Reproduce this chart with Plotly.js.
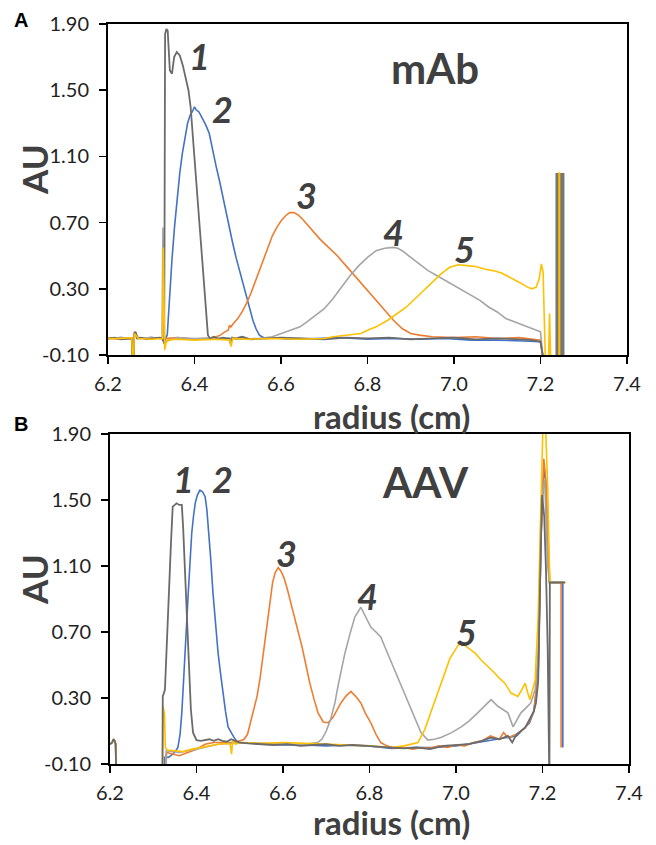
<!DOCTYPE html>
<html>
<head>
<meta charset="utf-8">
<script src="https://cdn.plot.ly/plotly-3.0.1.min.js"></script>
<style>html,body{margin:0;padding:0;background:#fff;}#chart{width:656px;height:845px;}</style>
</head>
<body>
<div id="chart"></div>
<script>
// ---------- Panel A (mAb) ----------
const A1x = [6.200,6.215,6.230,6.245,6.255,6.258,6.261,6.264,6.267,6.275,6.290,6.305,6.318,6.326,6.330,6.332,6.335,6.338,6.343,6.348,6.353,6.359,6.366,6.373,6.380,6.386,6.391,6.396,6.401,6.407,6.413,6.418,6.422,6.427,6.431,6.436,6.445,6.455,6.465,6.475,6.481,6.484,6.487,6.495,6.51,6.53,6.56,6.60,6.65,6.70,6.75,6.80,6.85,6.90,6.95,7.00,7.05,7.10,7.15,7.18,7.20,7.205,7.208];
const A1y = [0.000,0.005,-0.005,0.000,0.000,-0.25,0.03,0.04,0.000,0.005,-0.005,0.000,0.005,0.000,-0.03,1.84,1.87,1.86,1.62,1.60,1.70,1.73,1.71,1.65,1.57,1.50,1.40,1.24,1.04,0.84,0.64,0.47,0.33,0.17,0.02,0.000,0.010,-0.005,0.005,0.000,0.000,-0.04,0.005,0.000,0.010,-0.005,0.000,0.005,0.000,-0.005,0.005,0.000,0.005,-0.005,0.000,0.005,-0.005,0.000,-0.005,-0.010,-0.020,-0.10,-0.25];

const A2x = [6.200,6.230,6.255,6.258,6.261,6.264,6.270,6.300,6.326,6.330,6.337,6.342,6.348,6.354,6.360,6.366,6.372,6.378,6.384,6.390,6.395,6.400,6.404,6.410,6.418,6.426,6.434,6.442,6.450,6.458,6.466,6.474,6.482,6.488,6.496,6.504,6.512,6.520,6.528,6.535,6.542,6.550,6.556,6.565,6.58,6.62,6.68,6.74,6.80,6.86,6.92,6.98,7.04,7.10,7.16,7.20,7.205,7.208];
const A2y = [0.000,0.005,0.000,-0.20,0.03,0.03,0.000,0.005,0.000,-0.02,0.02,0.25,0.48,0.68,0.86,1.00,1.12,1.22,1.30,1.35,1.37,1.40,1.38,1.37,1.33,1.29,1.24,1.13,1.04,0.95,0.85,0.74,0.64,0.58,0.49,0.41,0.33,0.25,0.17,0.11,0.06,0.02,0.01,0.000,0.005,-0.005,0.000,0.005,-0.005,0.000,-0.005,0.000,-0.010,-0.010,-0.015,-0.020,-0.10,-0.25];

const A3x = [6.200,6.230,6.255,6.258,6.261,6.264,6.270,6.300,6.326,6.330,6.334,6.36,6.40,6.43,6.44,6.45,6.46,6.47,6.478,6.481,6.484,6.49,6.50,6.51,6.52,6.53,6.54,6.55,6.56,6.57,6.58,6.59,6.60,6.61,6.62,6.63,6.64,6.65,6.66,6.67,6.68,6.69,6.71,6.73,6.75,6.77,6.79,6.81,6.83,6.85,6.86,6.88,6.90,6.92,6.95,7.00,7.05,7.10,7.15,7.20,7.205,7.208];
const A3y = [0.000,-0.005,0.000,-0.20,0.03,0.03,0.000,0.005,0.000,-0.03,0.000,0.005,-0.005,0.000,0.000,0.010,0.020,0.040,0.050,0.080,0.070,0.090,0.120,0.160,0.210,0.270,0.340,0.410,0.480,0.560,0.620,0.670,0.710,0.740,0.760,0.760,0.745,0.720,0.690,0.660,0.630,0.600,0.550,0.500,0.440,0.380,0.320,0.260,0.200,0.140,0.110,0.060,0.030,0.020,0.010,0.005,0.010,0.000,0.005,-0.010,-0.10,-0.25];

const A4x = [6.200,6.230,6.255,6.258,6.261,6.264,6.270,6.300,6.320,6.325,6.327,6.329,6.333,6.36,6.40,6.45,6.50,6.55,6.58,6.60,6.62,6.644,6.66,6.68,6.70,6.72,6.74,6.76,6.78,6.80,6.82,6.84,6.86,6.87,6.88,6.90,6.92,6.94,6.96,6.98,7.00,7.02,7.04,7.06,7.08,7.10,7.12,7.14,7.16,7.18,7.20,7.205,7.208];
const A4y = [0.000,0.005,0.000,-0.20,0.04,0.03,0.000,0.005,0.000,0.000,0.67,0.05,-0.02,0.005,0.000,0.005,-0.005,0.000,0.010,0.030,0.050,0.070,0.100,0.140,0.180,0.240,0.310,0.380,0.440,0.490,0.530,0.545,0.550,0.545,0.530,0.490,0.450,0.410,0.380,0.350,0.320,0.290,0.260,0.230,0.190,0.160,0.120,0.100,0.080,0.060,0.040,-0.10,-0.25];

const A5x = [6.200,6.230,6.255,6.258,6.261,6.264,6.270,6.300,6.320,6.326,6.328,6.331,6.334,6.337,6.36,6.40,6.45,6.482,6.485,6.488,6.52,6.58,6.64,6.70,6.72,6.76,6.785,6.80,6.82,6.847,6.87,6.89,6.91,6.93,6.95,6.97,6.99,7.01,7.03,7.05,7.07,7.09,7.11,7.13,7.15,7.17,7.18,7.19,7.197,7.202,7.206,7.209,7.212,7.218,7.221,7.224,7.243,7.243,7.244,7.244];
const A5y = [0.000,0.000,0.005,-0.20,0.03,0.02,0.000,-0.005,0.000,0.000,0.55,-0.07,-0.03,-0.01,-0.005,-0.010,-0.005,-0.01,-0.05,0.000,-0.005,0.000,-0.005,0.000,0.010,0.020,0.030,0.050,0.070,0.110,0.150,0.190,0.240,0.290,0.340,0.390,0.430,0.445,0.440,0.435,0.420,0.410,0.395,0.370,0.340,0.310,0.300,0.310,0.360,0.450,0.400,0.10,-0.20,-0.20,0.15,-0.20,-0.20,1.00,1.00,-0.20];

// meniscus / reference block at the cell bottom (panel A)
const A_blockX = [7.245,7.245];
const A_blockY = [-0.20,1.00];

// ---------- Panel B (AAV) ----------
const B1x = [6.200,6.205,6.208,6.211,6.213,6.215,null,6.321,6.322,6.327,6.334,6.341,6.345,6.350,6.354,6.360,6.366,6.369,6.375,6.381,6.387,6.392,6.400,6.41,6.42,6.43,6.44,6.45,6.46,6.47,6.48,6.49,6.50,6.52,6.55,6.58,6.61,6.64,6.67,6.70,6.73,6.76,6.79,6.82,6.85,6.88,6.91,6.94,6.97,7.00,7.03,7.06,7.08,7.10,7.12,7.13,7.14,7.16,7.17,7.18,7.185,7.19,7.196,7.199,7.204,7.208,7.212,7.216,7.217,7.252];
const B1y = [0.02,0.03,0.05,0.04,0.02,-0.25,null,-0.25,0.31,0.35,0.83,1.24,1.46,1.47,1.48,1.47,1.47,1.34,0.94,0.53,0.23,0.09,0.045,0.04,0.045,0.05,0.04,0.05,0.04,0.035,0.05,0.04,0.03,0.025,0.02,0.015,0.02,0.01,0.015,0.02,0.01,0.015,0.01,0.005,0.000,-0.005,0.000,-0.01,0.01,0.015,0.02,0.04,0.06,0.05,0.07,0.03,0.08,0.12,0.17,0.22,0.27,0.40,1.20,1.53,1.40,1.08,0.60,-0.25,1.00,1.00];

const B2x = [6.200,6.205,6.208,6.211,6.213,6.215,null,6.325,6.326,6.335,6.345,6.352,6.357,6.362,6.366,6.370,6.373,6.377,6.381,6.385,6.389,6.393,6.397,6.402,6.408,6.414,6.420,6.424,6.428,6.433,6.438,6.444,6.450,6.456,6.461,6.467,6.473,6.480,6.487,6.494,6.50,6.55,6.60,6.65,6.70,6.75,6.80,6.85,6.90,6.95,7.00,7.05,7.10,7.14,7.17,7.18,7.19,7.197,7.203,7.208,7.212,7.216,7.247,7.247];
const B2y = [0.02,0.03,0.05,0.04,0.02,-0.25,null,-0.25,-0.06,-0.06,-0.04,-0.02,0.00,0.08,0.21,0.40,0.57,0.76,0.94,1.12,1.30,1.40,1.48,1.53,1.56,1.55,1.52,1.44,1.32,1.14,0.94,0.75,0.57,0.44,0.33,0.22,0.125,0.09,0.06,0.035,0.03,0.02,0.015,0.015,0.01,0.015,0.01,-0.005,0.00,0.00,0.01,0.03,0.05,0.07,0.15,0.22,0.45,1.30,1.70,1.60,1.30,1.00,1.00,0.00];

const B3x = [6.200,6.205,6.208,6.211,6.213,6.215,null,6.325,6.331,6.36,6.38,6.40,6.42,6.44,6.46,6.48,6.50,6.51,6.518,6.525,6.532,6.54,6.547,6.555,6.563,6.570,6.576,6.582,6.589,6.595,6.602,6.609,6.616,6.624,6.634,6.644,6.653,6.662,6.672,6.681,6.693,6.704,6.715,6.725,6.734,6.745,6.757,6.768,6.78,6.79,6.803,6.815,6.826,6.84,6.86,6.88,6.90,6.92,6.94,6.96,6.98,7.00,7.02,7.04,7.06,7.08,7.10,7.11,7.12,7.14,7.15,7.16,7.17,7.18,7.19,7.197,7.203,7.208,7.212,7.216,7.243,7.243];
const B3y = [0.02,0.03,0.05,0.04,0.02,-0.25,null,-0.25,-0.03,-0.05,-0.03,-0.01,0.02,0.03,0.03,0.03,0.04,0.05,0.08,0.15,0.22,0.31,0.42,0.58,0.76,0.90,1.00,1.06,1.09,1.07,1.03,0.97,0.90,0.82,0.72,0.61,0.50,0.39,0.29,0.21,0.155,0.15,0.18,0.23,0.27,0.31,0.34,0.31,0.27,0.21,0.15,0.08,0.03,0.01,-0.005,0.00,-0.01,0.00,-0.005,0.01,0.00,0.015,0.01,0.03,0.04,0.07,0.05,0.09,0.06,0.08,0.10,0.12,0.16,0.22,0.45,1.30,1.75,1.62,1.30,1.00,1.00,0.00];

const B4x = [6.200,6.205,6.208,6.211,6.213,6.215,null,6.325,6.33,6.36,6.40,6.45,6.50,6.55,6.60,6.65,6.68,6.69,6.70,6.71,6.72,6.727,6.735,6.743,6.755,6.766,6.78,6.79,6.803,6.815,6.826,6.842,6.858,6.874,6.889,6.904,6.919,6.935,6.95,6.965,6.99,7.012,7.03,7.05,7.065,7.081,7.097,7.11,7.12,7.132,7.15,7.162,7.173,7.183,7.19,7.197,7.205,7.212,7.216,7.25];
const B4y = [0.02,0.03,0.05,0.04,0.02,-0.25,null,-0.25,-0.02,-0.03,-0.01,0.02,0.03,0.025,0.02,0.02,0.03,0.05,0.10,0.17,0.27,0.37,0.47,0.57,0.69,0.79,0.85,0.80,0.73,0.70,0.67,0.57,0.47,0.37,0.27,0.18,0.09,0.045,0.05,0.06,0.09,0.125,0.16,0.21,0.25,0.29,0.25,0.23,0.21,0.125,0.21,0.24,0.27,0.35,0.57,1.50,1.62,1.10,1.00,1.00];

const B5x = [6.200,6.205,6.208,6.211,6.213,6.215,null,6.321,6.323,6.326,6.328,6.332,6.35,6.37,6.39,6.41,6.43,6.45,6.47,6.478,6.481,6.484,6.49,6.50,6.55,6.60,6.65,6.70,6.75,6.80,6.85,6.88,6.912,6.928,6.94,6.952,6.963,6.975,6.986,6.998,7.005,7.012,7.02,7.035,7.045,7.058,7.07,7.08,7.09,7.10,7.113,7.12,7.127,7.135,7.143,7.152,7.16,7.166,7.171,7.178,7.183,7.19,7.197,7.201,7.207,7.212,7.216,7.218,7.254];
const B5y = [0.02,0.03,0.05,0.04,0.02,-0.25,null,-0.25,0.25,0.20,0.00,-0.015,-0.02,-0.025,-0.01,0.00,0.01,0.02,0.025,0.02,-0.04,0.05,0.02,0.03,0.025,0.03,0.025,0.02,0.015,0.01,0.00,0.01,0.03,0.11,0.20,0.29,0.38,0.47,0.54,0.59,0.62,0.63,0.62,0.59,0.57,0.53,0.50,0.48,0.45,0.42,0.39,0.36,0.33,0.32,0.31,0.35,0.39,0.33,0.29,0.36,0.41,0.80,1.58,1.95,1.95,1.58,1.10,1.00,1.00];

// axis ticks
const xTicks = [6.2,6.4,6.6,6.8,7.0,7.2,7.4];
const xTickLabels = ['6.2','6.4','6.6','6.8','7.0','7.2','7.4'];
const yTicks = [-0.1,0.3,0.7,1.1,1.5,1.9];
const yTickLabels = ['-0.10','0.30','0.70','1.10','1.50','1.90'];

// peak labels
const peakNames = ['1','2','3','4','5'];

const C = {dark:'#6b6b6b', blue:'#4472c4', orange:'#ed7d31', gray:'#a5a5a5', gold:'#ffc000'};
const W = 1.6;
function tr(x,y,color,xa,ya,w){return {x:x,y:y,type:'scatter',mode:'lines',line:{color:color,width:w||W},xaxis:xa,yaxis:ya,hoverinfo:'skip',showlegend:false,connectgaps:false};}

const data = [
  tr(A_blockX,A_blockY,'#767676','x','y',9),
  tr(A2x,A2y,C.blue,'x','y'),
  tr(A3x,A3y,C.orange,'x','y'),
  tr(A4x,A4y,C.gray,'x','y'),
  tr(A1x,A1y,C.dark,'x','y',1.8),
  tr(A5x,A5y,C.gold,'x','y'),
  tr(B2x,B2y,C.blue,'x2','y2'),
  tr(B3x,B3y,C.orange,'x2','y2'),
  tr(B4x,B4y,C.gray,'x2','y2'),
  tr(B5x,B5y,C.gold,'x2','y2'),
  tr(B1x,B1y,C.dark,'x2','y2',1.8)
];

const tickFont = {family:'Lato, "Open Sans", sans-serif', size:20, color:'#1f1f1f'};
function xax(dom,anchor){return {domain:dom,anchor:anchor,range:[6.2,7.4],tickvals:xTicks,ticktext:xTickLabels,ticks:'outside',ticklen:7,tickwidth:1.5,tickcolor:'#000',showline:true,mirror:true,linecolor:'#000',linewidth:2,showgrid:false,zeroline:false,tickfont:tickFont,ticklabelstandoff:3,fixedrange:true};}
function yax(dom,anchor){return {domain:dom,anchor:anchor,range:[-0.1,1.9],tickvals:yTicks,ticktext:yTickLabels,ticks:'outside',ticklen:7,tickwidth:1.5,tickcolor:'#000',showline:true,mirror:true,linecolor:'#000',linewidth:2,showgrid:false,zeroline:false,tickfont:tickFont,ticklabelstandoff:6,fixedrange:true};}

const W0=656,H0=845;
function px(x){return x/W0;} function py(y){return 1-y/H0;}
const big = {family:'Lato, "Open Sans", sans-serif', color:'#404040'};
function ann(text,x,y,size,opts){return Object.assign({text:text,x:px(x),y:py(y),xref:'paper',yref:'paper',xanchor:'center',yanchor:'middle',showarrow:false,font:Object.assign({},big,{size:size,weight:'bold'})},opts||{});}
function num(t,x,y){return ann('<b><i>'+t+'</i></b>',x,y,36);}

const annotations = [
  ann('A',21,20,20,{font:{family:'"Liberation Sans", Arial, sans-serif',size:20,color:'#000',weight:'bold'}}),
  ann('B',21,424,20,{font:{family:'"Liberation Sans", Arial, sans-serif',size:20,color:'#000',weight:'bold'}}),
  ann('AU',34,170,35,{textangle:-90}),
  ann('AU',34,580,35,{textangle:-90}),
  ann('radius (cm)',391,416,33,{borderpad:0}),
  ann('radius (cm)',391,822,33,{borderpad:0}),
  ann('mAb',435,68,42),
  ann('AAV',425,482,42),
  num(peakNames[0],199,56), num(peakNames[1],222,109), num(peakNames[2],306,195), num(peakNames[3],393,232), num(peakNames[4],464,249),
  num(peakNames[0],183,479), num(peakNames[1],222,479), num(peakNames[2],286,553), num(peakNames[3],367,596), num(peakNames[4],466,632)
];

const layout = {
  width:W0, height:H0, margin:{l:0,r:0,t:0,b:0}, paper_bgcolor:'#fff', plot_bgcolor:'rgba(0,0,0,0)', showlegend:false,
  xaxis: xax([108/W0,627/W0],'y'),
  yaxis: yax([1-355/H0,1-24/H0],'x'),
  xaxis2: xax([110/W0,629/W0],'y2'),
  yaxis2: yax([1-764/H0,1-434/H0],'x2'),
  annotations: annotations
};
Plotly.newPlot('chart', data, layout, {staticPlot:true, displayModeBar:false});
</script>
</body>
</html>
